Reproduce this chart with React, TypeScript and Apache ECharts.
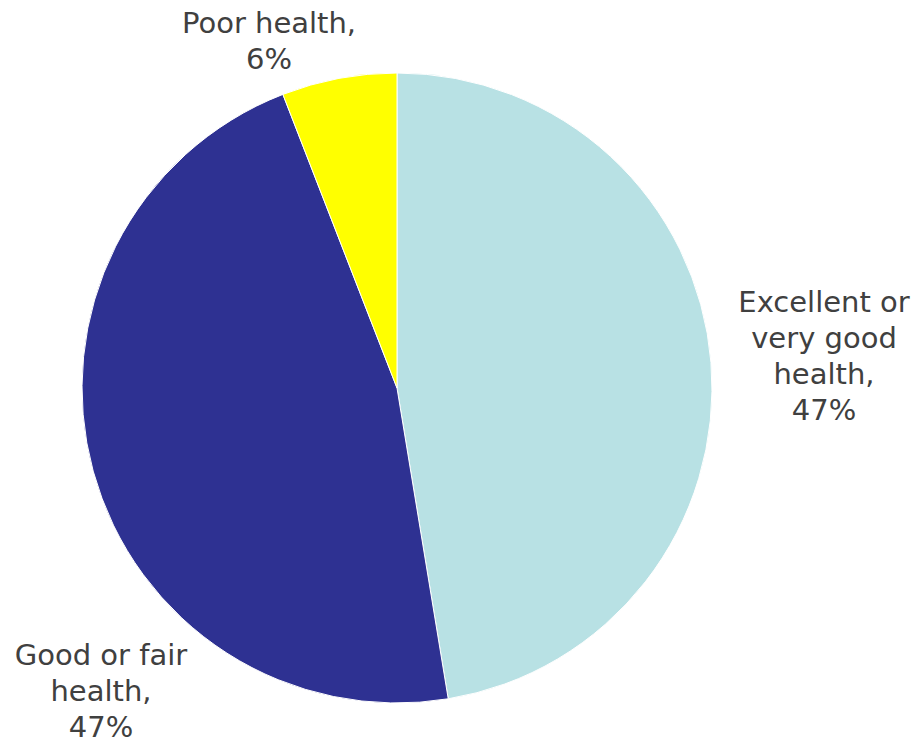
import React, { useEffect, useRef } from "react";
import * as echarts from "echarts";

const categories = ["Excellent or\nvery good\nhealth,", "Good or fair\nhealth,", "Poor health,"];
const values = [47.4, 46.7, 5.9];
const colors = ["#B8E1E4", "#2E3192", "#FFFF00"];
const labelCenters: [number, number][] = [
  [824, 356],
  [101, 691],
  [269, 41],
];

export default function App() {
  const ref = useRef<HTMLDivElement>(null);
  useEffect(() => {
    if (!ref.current) return;
    const chart = echarts.init(ref.current, null, { renderer: "svg" });
    chart.setOption({
      animation: false,
      backgroundColor: "#ffffff",
      series: [
        {
          type: "pie",
          center: [397, 388],
          radius: 315,
          startAngle: 90,
          clockwise: true,
          data: categories.map((c, i) => ({
            name: c,
            value: values[i],
            itemStyle: { color: colors[i] },
          })),
          itemStyle: { borderColor: "#ffffff", borderWidth: 1 },
          label: {
            show: true,
            position: "outside",
            formatter: (p: any) => `${p.name}\n${Math.round(p.value)}%`,
            fontFamily: "DejaVu Sans",
            fontSize: 29,
            lineHeight: 36,
            color: "#404040",
            align: "center",
            overflow: "none",
            width: 300,
          },
          labelLine: { show: false },
          labelLayout: (params: any) => {
            const c = labelCenters[params.dataIndex];
            return {
              x: c[0],
              y: c[1],
              align: "center",
              verticalAlign: "middle",
            };
          },
        },
      ],
    });
    return () => chart.dispose();
  }, []);
  return (
    <div
      ref={ref}
      style={{ position: "absolute", left: 0, top: 0, width: 922, height: 746 }}
    />
  );
}
